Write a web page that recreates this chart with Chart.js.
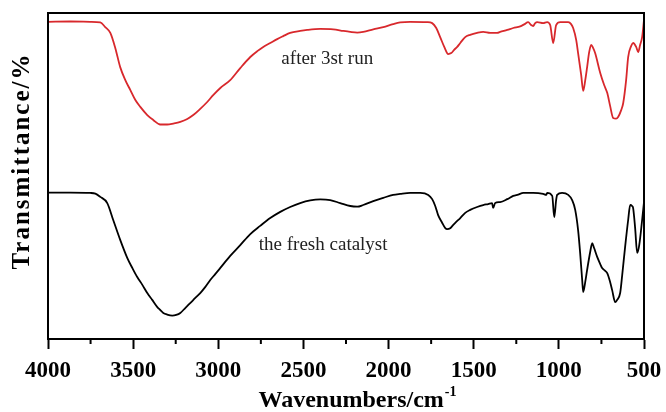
<!DOCTYPE html>
<html>
<head>
<meta charset="utf-8">
<script src="https://cdn.jsdelivr.net/npm/chart.js@4.4.1/dist/chart.umd.min.js"></script>
<style>
  html, body { margin: 0; padding: 0; background: #ffffff; }
  #wrap { width: 666px; height: 412px; }
</style>
</head>
<body>
<div id="wrap"><canvas id="c" width="666" height="412"></canvas></div>
<script>
// ---- data ----
const xTickValues = [4000, 3500, 3000, 2500, 2000, 1500, 1000, 500];

const redWavenumbers = [4000,3869,3752,3693,3664,3634,3605,3576,3546,3517,3487,3458,3417,3382,3341,3300,3264,3223,3182,3147,3106,3065,3030,2988,2930,2871,2812,2771,2736,2695,2654,2619,2578,2519,2478,2401,2325,2266,2225,2184,2149,2090,2031,1973,1932,1873,1773,1744,1720,1697,1673,1650,1632,1615,1597,1579,1550,1521,1480,1444,1403,1362,1345,1303,1268,1227,1204,1180,1163,1151,1139,1127,1092,1069,1051,1033,1016,992,945,928,916,898,887,869,857,845,834,822,810,799,787,757,734,716,699,681,664,652,634,622,605,593,575,564,546,534,523,511,500];
const redTransmittance = [97.3,97.4,97.3,97.1,95.7,93.9,89.3,83.4,79.4,76.4,73.3,71.2,68.7,67.2,65.8,65.8,66.1,66.6,67.5,68.7,70.6,72.7,74.8,77.0,79.4,83.1,86.5,88.3,89.6,90.8,92.0,92.9,93.9,94.5,94.8,95.1,95.0,94.5,94.2,94.0,94.2,95.0,95.7,96.6,97.1,97.3,97.2,96.9,95.4,92.6,89.6,87.4,87.7,88.7,89.6,90.8,92.6,93.3,93.9,94.2,93.9,93.9,94.2,94.8,95.4,95.9,96.5,97.2,96.3,96.0,96.9,97.2,96.9,97.2,96.3,90.8,96.3,97.2,97.2,96.6,95.4,91.7,87.7,81.0,76.1,79.4,83.4,88.0,90.2,89.3,87.7,81.6,77.9,75.5,71.5,67.8,67.6,68.1,70.2,72.4,79.4,86.5,89.9,90.8,89.6,88.0,90.2,92.6,97.9];

const blackWavenumbers = [4000,3869,3752,3722,3693,3652,3617,3576,3534,3505,3476,3446,3417,3388,3358,3341,3323,3300,3270,3247,3223,3194,3165,3135,3106,3076,3047,3018,2988,2930,2871,2812,2754,2695,2636,2578,2519,2460,2401,2343,2284,2225,2184,2149,2090,2031,1973,1932,1873,1814,1767,1744,1726,1709,1685,1667,1656,1638,1620,1603,1579,1550,1521,1480,1444,1415,1392,1386,1374,1345,1303,1268,1239,1209,1151,1092,1074,1069,1039,1027,1016,1010,981,945,922,904,887,875,863,857,845,834,816,804,793,775,757,746,728,716,699,687,669,658,640,628,611,593,581,570,564,552,540,528,511,500];
const blackTransmittance = [44.9,44.9,44.8,44.6,43.6,41.7,36.5,30.4,24.8,21.8,19.0,16.6,14.1,12.0,9.8,8.9,8.0,7.5,7.2,7.4,8.0,9.5,11.0,12.6,14.1,16.0,18.1,19.9,21.8,25.5,28.8,32.2,34.7,37.1,39.0,40.5,41.7,42.5,42.8,42.6,41.7,40.8,40.6,41.1,42.3,43.3,44.2,44.5,44.8,44.8,44.2,42.9,40.8,38.0,35.6,34.0,33.7,34.0,35.0,35.9,37.1,38.7,39.6,40.5,41.1,41.4,41.7,40.2,41.7,42.0,42.9,43.9,44.3,44.8,44.8,44.5,44.2,44.8,43.9,37.4,42.6,44.2,44.8,44.2,42.6,39.6,33.4,26.4,18.1,14.4,17.5,21.2,26.7,29.4,27.9,25.2,23.0,21.8,20.9,20.2,17.5,15.0,11.3,12.0,14.1,19.6,28.2,36.5,41.1,40.8,40.2,34.0,26.4,28.8,36.5,42.0];

const seriesLabels = ['after 3st run', 'the fresh catalyst'];
const labelWavenumbers = [2360, 2384];
const labelTransmittance = [85.9, 28.8];

const xTitleMain = 'Wavenumbers/cm';
const xTitleSup = '-1';
const yTitle = 'Transmittance/%';

const toPoints = (xs, ys) => xs.map((x, i) => ({ x: x, y: ys[i] }));

const SERIF = "'Liberation Serif', 'Times New Roman', serif";

const framePlugin = {
  id: 'frame',
  afterDraw(chart) {
    const { ctx, chartArea: a, scales } = chart;
    const xs = scales.x;
    ctx.save();
    ctx.strokeStyle = '#000';
    ctx.lineWidth = 2;
    ctx.strokeRect(a.left, a.top, a.right - a.left, a.bottom - a.top);
    // minor ticks between labelled ticks
    for (let i = 0; i < xTickValues.length - 1; i++) {
      const v = (xTickValues[i] + xTickValues[i + 1]) / 2;
      const px = xs.getPixelForValue(v);
      ctx.beginPath();
      ctx.moveTo(px, a.bottom);
      ctx.lineTo(px, a.bottom + 5);
      ctx.stroke();
    }
    // series labels
    ctx.fillStyle = '#222';
    ctx.font = "19px " + SERIF;
    ctx.textAlign = 'center';
    ctx.textBaseline = 'middle';
    seriesLabels.forEach((t, i) => {
      ctx.fillText(t, xs.getPixelForValue(labelWavenumbers[i]), scales.y.getPixelForValue(labelTransmittance[i]));
    });

    // x-axis title with superscript
    ctx.fillStyle = '#000';
    ctx.textBaseline = 'alphabetic';
    ctx.textAlign = 'left';
    const mainFont = "bold 24px " + SERIF;
    const supFont = "bold 14px " + SERIF;
    ctx.font = mainFont;
    const wMain = ctx.measureText(xTitleMain).width;
    ctx.font = supFont;
    const wSup = ctx.measureText(xTitleSup).width;
    const cx = (a.left + a.right) / 2 + 11;
    const startX = cx - (wMain + wSup) / 2;
    const baseY = chart.height - 5;
    ctx.font = mainFont;
    ctx.fillText(xTitleMain, startX, baseY);
    ctx.font = supFont;
    ctx.fillText(xTitleSup, startX + wMain + 1, baseY - 11);

    // y-axis title (rotated, letter-spaced)
    ctx.save();
    ctx.translate(23, (a.top + a.bottom) / 2 - 15);
    ctx.rotate(-Math.PI / 2);
    ctx.font = "bold 25px " + SERIF;
    if ('letterSpacing' in ctx) ctx.letterSpacing = '2px';
    ctx.textAlign = 'center';
    ctx.textBaseline = 'middle';
    ctx.fillText(yTitle, 0, 0);
    ctx.restore();

    ctx.restore();
  }
};

new Chart(document.getElementById('c'), {
  type: 'line',
  data: {
    datasets: [
      {
        label: seriesLabels[0],
        data: toPoints(redWavenumbers, redTransmittance),
        borderColor: '#d8282c',
        borderWidth: 1.8,
        pointRadius: 0,
        cubicInterpolationMode: 'monotone',
        fill: false
      },
      {
        label: seriesLabels[1],
        data: toPoints(blackWavenumbers, blackTransmittance),
        borderColor: '#000000',
        borderWidth: 1.8,
        pointRadius: 0,
        cubicInterpolationMode: 'monotone',
        fill: false
      }
    ]
  },
  options: {
    responsive: false,
    animation: false,
    devicePixelRatio: 1,
    layout: { padding: { top: 13, right: 22, left: 0, bottom: 0 } },
    plugins: { legend: { display: false }, tooltip: { enabled: false } },
    scales: {
      x: {
        type: 'linear',
        reverse: true,
        min: 500,
        max: 4000,
        afterBuildTicks(scale) { scale.ticks = xTickValues.map(v => ({ value: v })); },
        ticks: {
          color: '#000',
          font: { family: SERIF, size: 23, weight: 'bold' },
          padding: 8,
          maxRotation: 0,
          autoSkip: false,
          callback: (v) => String(v)
        },
        grid: { display: true, drawOnChartArea: false, drawTicks: true, tickLength: 10, tickWidth: 2, tickColor: '#000' },
        border: { display: true, color: '#000', width: 2 },
        title: { display: false },
        afterFit(scale) { scale.height = 73; scale.paddingLeft = 0; scale.paddingRight = 0; }
      },
      y: {
        min: 0,
        max: 100,
        ticks: { display: false },
        grid: { display: false },
        border: { display: true, color: '#000', width: 2 },
        title: { display: false },
        afterFit(scale) { scale.width = 48; }
      }
    }
  },
  plugins: [framePlugin]
});
</script>
</body>
</html>
